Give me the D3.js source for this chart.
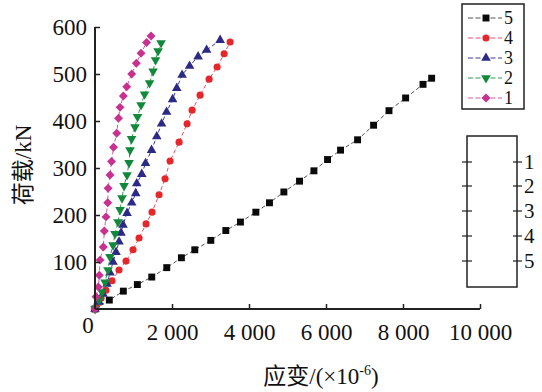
<!DOCTYPE html>
<html><head><meta charset="utf-8">
<script src="https://cdn.jsdelivr.net/npm/d3@7"></script>
<style>body{margin:0;background:#fff}svg{display:block}text{font-family:"Liberation Serif","Noto Sans CJK SC",serif;fill:#111}</style>
</head><body>
<script>
// Data: strain (×10^-6), load (kN)
const s5x=[0,372,736,1100,1474,1864,2244,2592,3008,3398,3778,4178,4532,4906,5312,5686,6040,6378,6820,7236,7636,8068,8520,8744];
const s5y=[0,19,38,52,68,88,109,126,146,167,185,206,226,249,272,294,318,338,360,391,422,449,478,491];
const s4x=[0,52,156,286,442,624,806,988,1144,1326,1482,1664,1820,1950,2184,2392,2522,2730,2964,3172,3354,3510];
const s4y=[0,9,23,40,60,83,102,126,151,181,206,243,277,315,355,394,423,455,489,515,543,568];
const s3x=[0,104,208,312,390,468,546,624,676,728,832,954,1058,1084,1214,1313,1469,1604,1729,1859,2015,2124,2262,2457,2678,2899,3250];
const s3y=[0,15,32,53,77,100,121,143,162,179,204,226,246,267,287,310,338,367,394,419,446,470,498,517,537,551,572];
const s2x=[0,104,182,260,338,390,468,520,598,650,702,754,832,884,910,949,1040,1105,1196,1287,1417,1508,1573,1638,1716];
const s2y=[0,19,36,57,83,111,136,160,185,211,236,262,285,311,338,362,387,409,434,457,481,506,530,549,566];
const s1x=[0,26,86,112,130,216,242,286,330,340,390,429,481,564,611,650,736,824,954,1074,1196,1339,1456];
const s1y=[0,26,47,72,104,132,166,196,226,257,285,314,344,374,406,429,453,473,500,523,544,567,581];
const seriesNames=["5","4","3","2","1"];
const xTicks=[2000,4000,6000,8000,10000];
const xTickLabels=["2 000","4 000","6 000","8 000","10 000"];
const yTicks=[100,200,300,400,500,600];
const insetLabels=["1","2","3","4","5"];

const series=[
 {name:"5",xs:s5x,ys:s5y,marker:"square",fill:"#0a0a0a",line:"#555"},
 {name:"4",xs:s4x,ys:s4y,marker:"circle",fill:"#e5262b",line:"#e4506c"},
 {name:"3",xs:s3x,ys:s3y,marker:"triangle",fill:"#2d2a85",line:"#3d3a95"},
 {name:"2",xs:s2x,ys:s2y,marker:"tridown",fill:"#11883a",line:"#2a9a50"},
 {name:"1",xs:s1x,ys:s1y,marker:"diamond",fill:"#c9318f",line:"#d45aa5"}
];

const W=542,H=392;
const svg=d3.select("body").append("svg").attr("width",W).attr("height",H);
const x=d3.scaleLinear().domain([0,10000]).range([95,480]);
const y=d3.scaleLinear().domain([0,600]).range([309,27]);

function markerPath(m){
  if(m==="square") return d3.symbol(d3.symbolSquare,48)();
  if(m==="circle") return d3.symbol(d3.symbolCircle,40)();
  if(m==="triangle") return d3.symbol(d3.symbolTriangle,40)();
  if(m==="tridown") return d3.symbol(d3.symbolTriangle,40)();
  return d3.symbol(d3.symbolSquare,40)();
}
function markerRot(m){ return m==="tridown"?180:(m==="diamond"?45:0); }

const line=d3.line().x(d=>x(d[0])).y(d=>y(d[1]));
series.forEach(s=>{
  const pts=s.xs.map((v,i)=>[v,s.ys[i]]);
  svg.append("path").datum(pts).attr("d",line).attr("fill","none")
    .attr("stroke",s.line).attr("stroke-width",1).attr("stroke-dasharray","4,2.5");
  svg.append("g").selectAll("path").data(pts).join("path")
    .attr("d",markerPath(s.marker))
    .attr("transform",d=>`translate(${x(d[0])},${y(d[1])}) rotate(${markerRot(s.marker)})`)
    .attr("fill",s.fill);
});

// axes
const xAxis=d3.axisBottom(x).tickValues(xTicks).tickSize(-5).tickFormat((d,i)=>xTickLabels[i]);
const gx=svg.append("g").attr("transform","translate(0,309)").call(xAxis);
gx.select(".domain").attr("d","M95,0H480").attr("stroke","#222").attr("stroke-width",2);
gx.selectAll(".tick line").attr("stroke","#222").attr("stroke-width",1.5);
gx.selectAll(".tick text").attr("font-size",23).attr("dy",0).attr("y",31)
  .style("font-family","'Liberation Serif',serif").attr("fill","#111");

const yAxis=d3.axisLeft(y).tickValues(yTicks).tickSize(-5);
const gy=svg.append("g").attr("transform","translate(95,0)").call(yAxis);
gy.select(".domain").attr("d","M0,27V309").attr("stroke","#222").attr("stroke-width",2);
gy.selectAll(".tick line").attr("stroke","#222").attr("stroke-width",1.5);
gy.selectAll(".tick text").attr("font-size",23).attr("x",-8).attr("dy","0.34em")
  .style("font-family","'Liberation Serif',serif").attr("fill","#111");

svg.append("text").attr("x",88).attr("y",333).attr("text-anchor","middle").attr("font-size",23).text("0");

// axis titles
svg.append("text").attr("transform","translate(31,165) rotate(-90)").attr("text-anchor","middle")
  .attr("font-size",23).text("荷载/kN");
const xt=svg.append("text").attr("x",321).attr("y",384).attr("text-anchor","middle").attr("font-size",23);
xt.append("tspan").text("应变/(×10");
xt.append("tspan").attr("font-size",14).attr("dy",-9).text("-6");
xt.append("tspan").attr("dy",9).text(")");

// legend
const lg=svg.append("g");
lg.append("rect").attr("x",462).attr("y",4).attr("width",62).attr("height",105)
  .attr("fill","#fff").attr("stroke","#222").attr("stroke-width",1.5);
series.forEach((s,i)=>{
  const cy=18+i*20;
  lg.append("line").attr("x1",468).attr("x2",502).attr("y1",cy).attr("y2",cy)
    .attr("stroke",s.line).attr("stroke-width",1).attr("stroke-dasharray","5,2.5");
  lg.append("path").attr("d",markerPath(s.marker))
    .attr("transform",`translate(486,${cy}) rotate(${markerRot(s.marker)})`).attr("fill",s.fill);
  lg.append("text").attr("x",504).attr("y",cy+6).attr("font-size",18).text(seriesNames[i]);
});

// inset schematic
const ins=svg.append("g");
ins.append("rect").attr("x",467).attr("y",136).attr("width",50).attr("height",151)
  .attr("fill","none").attr("stroke","#222").attr("stroke-width",1.5);
const insetY=[162,186,211,236,261];
insetLabels.forEach((t,i)=>{
  ins.append("line").attr("x1",462).attr("x2",472).attr("y1",insetY[i]).attr("y2",insetY[i]).attr("stroke","#222").attr("stroke-width",1.2);
  ins.append("line").attr("x1",513).attr("x2",522).attr("y1",insetY[i]).attr("y2",insetY[i]).attr("stroke","#222").attr("stroke-width",1.2);
  ins.append("text").attr("x",524).attr("y",insetY[i]+7).attr("font-size",21).text(t);
});
</script>
</body></html>
